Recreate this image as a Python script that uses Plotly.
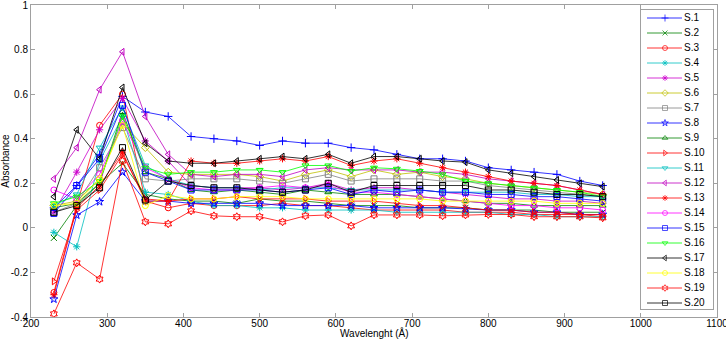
import plotly.graph_objects as go

wavelength = [230, 260, 290, 320, 350, 380, 410, 440, 470, 500, 530, 560, 590,
              620, 650, 680, 710, 740, 770, 800, 830, 860, 890, 920, 950]

s1 = [0.09, 0.19, 0.33, 0.59, 0.52, 0.50, 0.41, 0.40, 0.39, 0.37, 0.39, 0.38, 0.38, 0.36, 0.35, 0.33, 0.31, 0.31, 0.30, 0.27, 0.26, 0.25, 0.24, 0.21, 0.19]
s2 = [-0.045, 0.10, 0.20, 0.29, 0.15, 0.13, 0.12, 0.12, 0.11, 0.13, 0.12, 0.12, 0.11, 0.10, 0.10, 0.10, 0.09, 0.09, 0.09, 0.08, 0.08, 0.08, 0.07, 0.07, 0.07]
s3 = [-0.29, 0.10, 0.46, 0.60, 0.12, 0.09, 0.11, 0.10, 0.10, 0.10, 0.11, 0.10, 0.10, 0.09, 0.08, 0.08, 0.08, 0.08, 0.07, 0.07, 0.07, 0.06, 0.06, 0.06, 0.05]
s4 = [-0.02, -0.085, 0.30, 0.50, 0.16, 0.15, 0.12, 0.10, 0.10, 0.09, 0.09, 0.08, 0.08, 0.08, 0.08, 0.07, 0.07, 0.07, 0.07, 0.07, 0.06, 0.06, 0.05, 0.05, 0.05]
s5 = [0.07, 0.25, 0.44, 0.58, 0.39, 0.30, 0.19, 0.18, 0.18, 0.18, 0.17, 0.18, 0.20, 0.17, 0.18, 0.18, 0.17, 0.16, 0.15, 0.14, 0.13, 0.13, 0.12, 0.12, 0.11]
s6 = [0.10, 0.12, 0.22, 0.47, 0.36, 0.25, 0.24, 0.24, 0.24, 0.23, 0.21, 0.24, 0.26, 0.23, 0.26, 0.24, 0.25, 0.23, 0.22, 0.20, 0.19, 0.18, 0.17, 0.16, 0.15]
s7 = [0.07, 0.11, 0.27, 0.45, 0.22, 0.21, 0.22, 0.22, 0.22, 0.21, 0.20, 0.22, 0.24, 0.21, 0.22, 0.22, 0.22, 0.21, 0.21, 0.19, 0.18, 0.17, 0.16, 0.15, 0.14]
s8 = [-0.32, 0.057, 0.117, 0.25, 0.12, 0.12, 0.11, 0.11, 0.11, 0.11, 0.10, 0.10, 0.10, 0.10, 0.09, 0.09, 0.09, 0.09, 0.085, 0.08, 0.08, 0.07, 0.07, 0.06, 0.06]
s9 = [0.09, 0.11, 0.20, 0.52, 0.25, 0.22, 0.17, 0.16, 0.17, 0.16, 0.15, 0.17, 0.16, 0.15, 0.15, 0.15, 0.14, 0.13, 0.12, 0.11, 0.11, 0.10, 0.10, 0.10, 0.10]
s10 = [-0.24, 0.08, 0.17, 0.33, 0.13, 0.12, 0.13, 0.13, 0.14, 0.13, 0.13, 0.13, 0.12, 0.12, 0.12, 0.11, 0.10, 0.10, 0.09, 0.08, 0.08, 0.07, 0.07, 0.06, 0.06]
s11 = [0.10, 0.15, 0.36, 0.54, 0.28, 0.22, 0.19, 0.18, 0.18, 0.17, 0.18, 0.18, 0.18, 0.17, 0.17, 0.17, 0.17, 0.16, 0.16, 0.16, 0.16, 0.15, 0.15, 0.14, 0.14]
s12 = [0.22, 0.36, 0.62, 0.79, 0.50, 0.33, 0.24, 0.23, 0.24, 0.24, 0.23, 0.26, 0.27, 0.26, 0.26, 0.26, 0.25, 0.25, 0.24, 0.22, 0.21, 0.20, 0.19, 0.17, 0.15]
s13 = [-0.30, 0.09, 0.19, 0.34, 0.12, 0.12, 0.30, 0.29, 0.29, 0.30, 0.31, 0.30, 0.32, 0.28, 0.30, 0.31, 0.29, 0.27, 0.25, 0.23, 0.21, 0.20, 0.19, 0.17, 0.15]
s14 = [0.17, 0.13, 0.24, 0.48, 0.27, 0.22, 0.18, 0.17, 0.17, 0.18, 0.19, 0.18, 0.19, 0.16, 0.16, 0.15, 0.14, 0.13, 0.12, 0.11, 0.10, 0.10, 0.09, 0.09, 0.08]
s15 = [0.065, 0.19, 0.31, 0.55, 0.25, 0.21, 0.17, 0.17, 0.17, 0.17, 0.16, 0.17, 0.18, 0.15, 0.17, 0.16, 0.17, 0.16, 0.16, 0.15, 0.15, 0.14, 0.14, 0.13, 0.12]
s16 = [0.11, 0.14, 0.21, 0.50, 0.27, 0.24, 0.25, 0.25, 0.26, 0.26, 0.25, 0.28, 0.28, 0.255, 0.27, 0.265, 0.255, 0.24, 0.21, 0.20, 0.19, 0.18, 0.17, 0.16, 0.14]
s17 = [0.14, 0.44, 0.31, 0.63, 0.38, 0.30, 0.29, 0.29, 0.30, 0.31, 0.32, 0.31, 0.33, 0.29, 0.32, 0.32, 0.31, 0.30, 0.295, 0.26, 0.245, 0.23, 0.215, 0.20, 0.185]
s18 = [0.10, 0.11, 0.22, 0.46, 0.10, 0.145, 0.13, 0.13, 0.14, 0.14, 0.14, 0.13, 0.13, 0.13, 0.13, 0.13, 0.13, 0.12, 0.12, 0.12, 0.12, 0.12, 0.11, 0.11, 0.11]
s19 = [-0.386, -0.157, -0.23, 0.30, 0.027, 0.018, 0.076, 0.054, 0.05, 0.05, 0.027, 0.054, 0.058, 0.009, 0.058, 0.058, 0.058, 0.054, 0.058, 0.06, 0.06, 0.05, 0.05, 0.05, 0.045]
s20 = [0.07, 0.10, 0.18, 0.36, 0.125, 0.21, 0.19, 0.18, 0.18, 0.17, 0.16, 0.17, 0.20, 0.16, 0.19, 0.19, 0.19, 0.19, 0.19, 0.17, 0.17, 0.16, 0.15, 0.15, 0.14]

names = ["S.%d" % i for i in range(1, 21)]
series = [s1, s2, s3, s4, s5, s6, s7, s8, s9, s10, s11, s12, s13, s14, s15, s16, s17, s18, s19, s20]
colors = ["#0000ff", "#008000", "#ff0000", "#00bfbf", "#cc00cc", "#bfbf00", "#808080",
          "#0000ff", "#008000", "#ff0000", "#00bfbf", "#bf00bf", "#ff0000", "#ff00ff",
          "#0000ff", "#00ff00", "#000000", "#ffff00", "#ff0000", "#000000"]
symbols = ["cross-thin-open", "x-thin-open", "circle-open", "asterisk-open", "asterisk-open",
           "diamond-open", "square-open", "star-open", "triangle-up-open", "triangle-right-open",
           "triangle-down-open", "triangle-left-open", "asterisk-open", "circle-open",
           "square-open", "triangle-down-open", "triangle-left-open", "circle-open",
           "hexagram-open", "square-open"]

FONT = "Liberation Sans, Arial, sans-serif"
fig = go.Figure()
for name, ys, c, sym in zip(names, series, colors, symbols):
    fig.add_trace(go.Scatter(
        x=wavelength, y=ys, name=name, mode="lines+markers", showlegend=False,
        line=dict(color=c, width=0.8),
        marker=dict(symbol=sym, size=6, color=c, line=dict(color=c, width=1)),
    ))

# compact legend (MATLAB-style spacing) drawn in its own small pixel-unit axes
LEG_LEFT, LEG_RIGHT, LEG_TOP, LEG_BOTTOM = 641, 713, 10, 309
LEG_ROW0, LEG_DY = 18, 15
PLOT_L, PLOT_R, PLOT_T, PLOT_B = 31, 717, 5, 317
pw, ph = PLOT_R - PLOT_L, PLOT_B - PLOT_T
for i, (name, c, sym) in enumerate(zip(names, colors, symbols)):
    row = LEG_ROW0 + LEG_DY * i
    fig.add_trace(go.Scatter(
        x=[647, 665, 682], y=[row, row, row], xaxis="x2", yaxis="y2",
        mode="lines+markers", showlegend=False, hoverinfo="skip",
        line=dict(color=c, width=0.8),
        marker=dict(symbol=sym, size=[0, 5, 0], color=c, line=dict(color=c, width=1)),
        cliponaxis=False,
    ))
    fig.add_trace(go.Scatter(
        x=[684], y=[row], xaxis="x2", yaxis="y2",
        mode="text", showlegend=False, hoverinfo="skip",
        text=[name], textposition="middle right",
        textfont=dict(family=FONT, size=10, color="#000"),
        cliponaxis=False,
    ))

axis_common = dict(showgrid=False, zeroline=False, showline=True, mirror="ticks",
                   linecolor="#a0a0a0", linewidth=1, ticks="inside", ticklen=4,
                   tickcolor="#a0a0a0", ticklabeloverflow="allow",
                   tickfont=dict(family=FONT, size=10, color="#000"))

fig.update_layout(
    width=726, height=340,
    margin=dict(l=PLOT_L, r=726 - PLOT_R, t=PLOT_T, b=340 - PLOT_B, autoexpand=False),
    paper_bgcolor="white", plot_bgcolor="white",
    font=dict(family=FONT, size=10, color="#000"),
    showlegend=False,
    xaxis=dict(range=[200, 1100], tickmode="array", domain=[0, 1], anchor="y",
               tickvals=[200, 300, 400, 500, 600, 700, 800, 900, 1000, 1100],
               ticklabelstandoff=-3, **axis_common),
    yaxis=dict(range=[-0.4, 1.0001], tickmode="array", domain=[0, 1], anchor="x",
               tickvals=[-0.4, -0.2, 0, 0.2, 0.4, 0.6, 0.8, 1],
               ticktext=["-0.4", "-0.2", "0", "0.2", "0.4", "0.6", "0.8", "1"],
               title=dict(text="Absorbance", standoff=4, font=dict(size=10)),
               **axis_common),
    xaxis2=dict(domain=[(LEG_LEFT - PLOT_L) / pw, (LEG_RIGHT - PLOT_L) / pw],
                range=[LEG_LEFT, LEG_RIGHT], anchor="y2", showgrid=False, zeroline=False,
                showline=True, mirror=True, linecolor="#a0a0a0", linewidth=1,
                showticklabels=False, ticks=""),
    yaxis2=dict(domain=[(PLOT_B - LEG_BOTTOM) / ph, (PLOT_B - LEG_TOP) / ph],
                range=[LEG_BOTTOM, LEG_TOP], anchor="x2", showgrid=False, zeroline=False,
                showline=True, mirror=True, linecolor="#a0a0a0", linewidth=1,
                showticklabels=False, ticks=""),
    annotations=[dict(text="Wavelenght (Å)", xref="paper", yref="paper", x=0.5,
                      y=(PLOT_B - 333) / ph, xanchor="center", yanchor="middle",
                      showarrow=False, font=dict(family=FONT, size=10, color="#000"))],
)

fig.write_html("out.html", config={"displayModeBar": False},
               post_script="document.body.style.margin='0px';document.body.style.overflow='hidden';")
